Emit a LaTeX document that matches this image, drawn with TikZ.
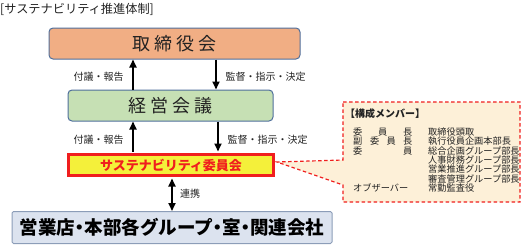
\documentclass[tikz,border=0pt]{standalone}
\usepackage{fontspec}
\setmainfont{Noto Sans CJK JP}
\usetikzlibrary{arrows.meta}
\definecolor{boxline}{HTML}{4F6F9C}
\definecolor{orangefill}{HTML}{F1AE84}
\definecolor{greenfill}{HTML}{C6E0B4}
\definecolor{yelfill}{HTML}{F4F03A}
\definecolor{redline}{HTML}{F01E1E}
\definecolor{bluefill}{HTML}{DCE3EF}
\definecolor{bluegrayline}{HTML}{8C9DB8}
\definecolor{beige}{HTML}{FDF0D8}
\definecolor{txt}{HTML}{222222}
\newcommand{\hdot}{\kern-0.25em・\kern-0.25em}
\tikzset{
  mainbox/.style={draw=boxline, line width=1pt, rounded corners=4pt, inner sep=0pt, text=txt},
  arr/.style={line width=1.7pt, -{Triangle[width=7pt,length=8pt]}},
  dblarr/.style={line width=1.7pt, {Triangle[width=7pt,length=8pt]}-{Triangle[width=7pt,length=8pt]}},
  lbl/.style={inner sep=0pt, font=\fontsize{10}{10}\selectfont, text=txt},
  mem/.style={inner sep=0pt, anchor=west, font=\fontsize{9.2}{9.2}\selectfont, text=txt},
}
\begin{document}
\begin{tikzpicture}[x=1pt,y=-1pt]
\useasboundingbox (0,0) rectangle (522,244);
% title
\node[anchor=west, inner sep=0pt, font=\fontsize{12.2}{12.2}\selectfont, text=txt] (title) at (0,9) {[サステナビリティ推進体制]};
% boxes
\node[mainbox, fill=orangefill, minimum width=251pt, minimum height=31pt, font=\fontsize{18}{18}\selectfont] (b1) at (174.5,43.5) {取\hspace{4pt}締\hspace{4pt}役\hspace{4pt}会};
\node[mainbox, fill=greenfill, minimum width=205pt, minimum height=31pt, font=\fontsize{18}{18}\selectfont] (b2) at (170.5,105.5) {経\hspace{4pt}営\hspace{4pt}会\hspace{4pt}議};
\node[draw=redline, line width=3pt, fill=yelfill, minimum width=205pt, minimum height=21pt, inner sep=0pt, text=redline, font=\bfseries\fontsize{13}{13}\selectfont] (b3) at (171,165) {サステナビリティ委員会};
\node[draw=bluegrayline, line width=1pt, rounded corners=1.5pt, fill=bluefill, minimum width=320pt, minimum height=32pt, inner sep=0pt, text=black, font=\bfseries\fontsize{18.5}{18.5}\selectfont] (b4) at (172,227.5) {営業店\hdot 本部各グループ\hdot 室\hdot 関連会社};
% arrow positions
\coordinate (ux) at (133,0);
\coordinate (dx1) at (216,0);
\coordinate (dx2) at (218,0);
\coordinate (lx) at (172,0);
\draw[arr] (b2.north -| ux) -- (b1.south -| ux);
\draw[arr] (b1.south -| dx1) -- (b2.north -| dx1);
\draw[arr] (b3.north -| ux) ++(0,-1.5) -- (b2.south -| ux);
\draw[arr] (b2.south -| dx2) -- ([yshift=1.5pt]b3.north -| dx2);
\draw[dblarr] ([yshift=-1.5pt]b3.south -| lx) -- (b4.north -| lx);
% labels
\node[lbl] (l1) at (98.5,77) {付議・報告};
\node[lbl] (l2) at (265.5,77) {監督・指示・決定};
\node[lbl] (l3) at (98.5,140) {付議・報告};
\node[lbl] (l4) at (267.5,140) {監督・指示・決定};
\node[lbl] (l5) at (190,194) {連携};
% callout
\draw[redline, line width=1.2pt, fill=beige, dash pattern=on 3.5pt off 2.5pt]
  (343,102) -- (520,102) -- (520,202) -- (343,202) -- (343,185) -- (277,162) -- (343,160) -- cycle;
\node[anchor=west, inner sep=0pt, font=\bfseries\fontsize{10}{10}\selectfont, text=txt] (ct) at (345,114) {【構成メンバー】};
% left column
\node[mem] (r1a) at (353,132) {委};
\node[mem] (r1b) at (378,132) {員};
\node[mem] (r1c) at (403,132) {長};
\node[mem] (r2a) at (353,141.35) {副};
\node[mem] (r2b) at (370,141.35) {委};
\node[mem] (r2c) at (386.5,141.35) {員};
\node[mem] (r2d) at (403,141.35) {長};
\node[mem] (r3a) at (353,150.7) {委};
\node[mem] (r3c) at (403,150.7) {員};
\node[mem] (r7a) at (353,188.1) {オブザーバー};
% right column
\node[mem] (m1) at (428,132) {取締役頭取};
\node[mem] (m2) at (428,141.35) {執行役員企画本部長};
\node[mem] (m3) at (428,150.7) {総合企画グループ部長};
\node[mem] (m4) at (428,160.05) {人事財務グループ部長};
\node[mem] (m5) at (428,169.4) {営業推進グループ部長};
\node[mem] (m6) at (428,178.75) {審査管理グループ部長};
\node[mem] (m7) at (428,188.1) {常勤監査役};
\end{tikzpicture}
\end{document}
